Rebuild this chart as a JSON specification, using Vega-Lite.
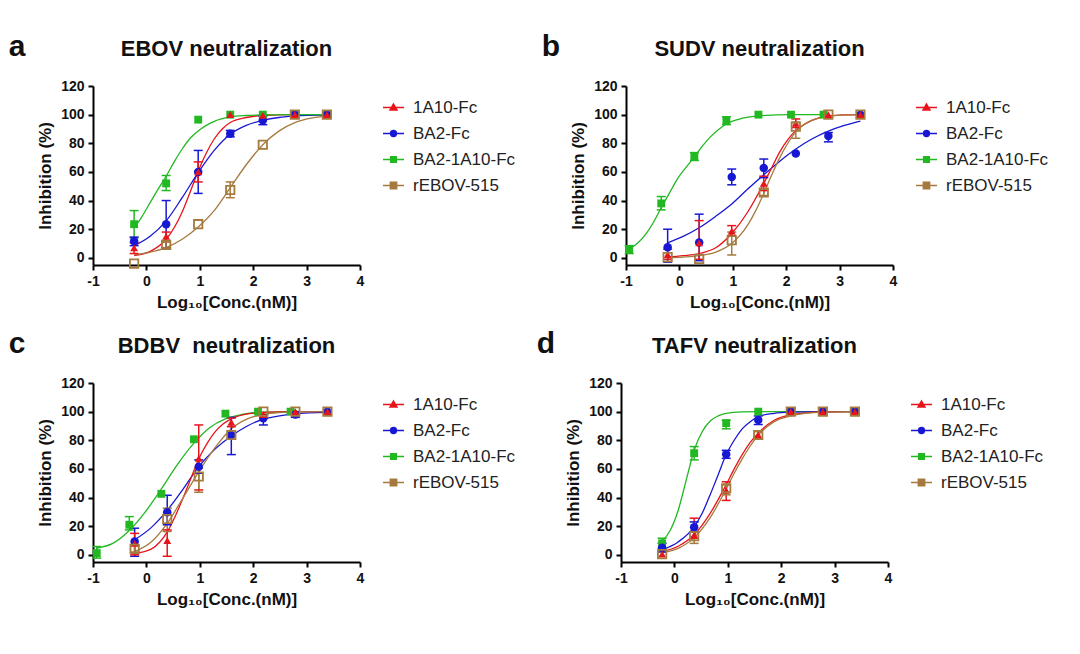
{
  "$schema": "https://vega.github.io/schema/vega-lite/v6.json",
  "background": "white",
  "padding": {"left": 8, "top": 32, "right": 5, "bottom": 5},
  "datasets": {
    "pts": [
      {"p":"EBOV","s":"BA2-1A10-Fc","x":-0.23,"y":23.5,"lo":14,"hi":33},
      {"p":"EBOV","s":"BA2-1A10-Fc","x":0.37,"y":52,"lo":47,"hi":57.5},
      {"p":"EBOV","s":"BA2-1A10-Fc","x":0.97,"y":96.5},
      {"p":"EBOV","s":"BA2-1A10-Fc","x":1.57,"y":100},
      {"p":"EBOV","s":"BA2-1A10-Fc","x":2.18,"y":100},
      {"p":"EBOV","s":"BA2-1A10-Fc","x":2.78,"y":100},
      {"p":"EBOV","s":"BA2-1A10-Fc","x":3.38,"y":100},
      {"p":"EBOV","s":"BA2-Fc","x":-0.23,"y":11.6,"lo":8.5,"hi":14.5},
      {"p":"EBOV","s":"BA2-Fc","x":0.37,"y":23.5,"lo":7,"hi":40},
      {"p":"EBOV","s":"BA2-Fc","x":0.97,"y":60,"lo":45,"hi":75},
      {"p":"EBOV","s":"BA2-Fc","x":1.57,"y":86.7,"lo":84.5,"hi":89},
      {"p":"EBOV","s":"BA2-Fc","x":2.18,"y":96,"lo":93,"hi":99},
      {"p":"EBOV","s":"BA2-Fc","x":2.78,"y":100},
      {"p":"EBOV","s":"BA2-Fc","x":3.38,"y":100},
      {"p":"EBOV","s":"1A10-Fc","x":-0.23,"y":7,"lo":3,"hi":10.5},
      {"p":"EBOV","s":"1A10-Fc","x":0.37,"y":15,"lo":12,"hi":18},
      {"p":"EBOV","s":"1A10-Fc","x":0.97,"y":60,"lo":53,"hi":67},
      {"p":"EBOV","s":"1A10-Fc","x":1.57,"y":100},
      {"p":"EBOV","s":"1A10-Fc","x":2.18,"y":99.5},
      {"p":"EBOV","s":"1A10-Fc","x":2.78,"y":100},
      {"p":"EBOV","s":"1A10-Fc","x":3.38,"y":100},
      {"p":"EBOV","s":"rEBOV-515","x":-0.23,"y":-4},
      {"p":"EBOV","s":"rEBOV-515","x":0.37,"y":9,"lo":7,"hi":11},
      {"p":"EBOV","s":"rEBOV-515","x":0.97,"y":23.5},
      {"p":"EBOV","s":"rEBOV-515","x":1.57,"y":47.4,"lo":42,"hi":53},
      {"p":"EBOV","s":"rEBOV-515","x":2.18,"y":79},
      {"p":"EBOV","s":"rEBOV-515","x":2.78,"y":100},
      {"p":"EBOV","s":"rEBOV-515","x":3.38,"y":100},

      {"p":"SUDV","s":"BA2-1A10-Fc","x":-0.94,"y":5.8,"lo":3,"hi":8.5},
      {"p":"SUDV","s":"BA2-1A10-Fc","x":-0.34,"y":38,"lo":33.5,"hi":42.8},
      {"p":"SUDV","s":"BA2-1A10-Fc","x":0.28,"y":70.7,"lo":68,"hi":73.5},
      {"p":"SUDV","s":"BA2-1A10-Fc","x":0.88,"y":95.8,"lo":93,"hi":98.5},
      {"p":"SUDV","s":"BA2-1A10-Fc","x":1.48,"y":100},
      {"p":"SUDV","s":"BA2-1A10-Fc","x":2.09,"y":100},
      {"p":"SUDV","s":"BA2-1A10-Fc","x":2.7,"y":100},
      {"p":"SUDV","s":"BA2-Fc","x":-0.22,"y":7.4,"lo":-3,"hi":20},
      {"p":"SUDV","s":"BA2-Fc","x":0.37,"y":10.7,"lo":-2,"hi":30.5},
      {"p":"SUDV","s":"BA2-Fc","x":0.98,"y":56.5,"lo":51,"hi":62},
      {"p":"SUDV","s":"BA2-Fc","x":1.58,"y":62.8,"lo":56,"hi":69},
      {"p":"SUDV","s":"BA2-Fc","x":2.18,"y":72.8},
      {"p":"SUDV","s":"BA2-Fc","x":2.79,"y":85,"lo":81,"hi":87.5},
      {"p":"SUDV","s":"BA2-Fc","x":3.39,"y":100},
      {"p":"SUDV","s":"1A10-Fc","x":-0.22,"y":2.3,"lo":-1,"hi":6},
      {"p":"SUDV","s":"1A10-Fc","x":0.37,"y":10.5,"lo":-1,"hi":26},
      {"p":"SUDV","s":"1A10-Fc","x":0.98,"y":18.6,"lo":15.6,"hi":22.5},
      {"p":"SUDV","s":"1A10-Fc","x":1.58,"y":52,"lo":47,"hi":57},
      {"p":"SUDV","s":"1A10-Fc","x":2.18,"y":94,"lo":91,"hi":97},
      {"p":"SUDV","s":"1A10-Fc","x":2.79,"y":100},
      {"p":"SUDV","s":"1A10-Fc","x":3.39,"y":100},
      {"p":"SUDV","s":"rEBOV-515","x":-0.22,"y":0.5},
      {"p":"SUDV","s":"rEBOV-515","x":0.37,"y":-0.7},
      {"p":"SUDV","s":"rEBOV-515","x":0.98,"y":12.3,"lo":2,"hi":18},
      {"p":"SUDV","s":"rEBOV-515","x":1.58,"y":45.6,"lo":43.5,"hi":48},
      {"p":"SUDV","s":"rEBOV-515","x":2.18,"y":91.6,"lo":83.5,"hi":94.7},
      {"p":"SUDV","s":"rEBOV-515","x":2.79,"y":100},
      {"p":"SUDV","s":"rEBOV-515","x":3.39,"y":100},

      {"p":"BDBV","s":"BA2-1A10-Fc","x":-0.93,"y":1.2,"lo":-2.3,"hi":5.8},
      {"p":"BDBV","s":"BA2-1A10-Fc","x":-0.32,"y":21,"lo":17.4,"hi":26.7},
      {"p":"BDBV","s":"BA2-1A10-Fc","x":0.28,"y":42.6},
      {"p":"BDBV","s":"BA2-1A10-Fc","x":0.89,"y":80.7},
      {"p":"BDBV","s":"BA2-1A10-Fc","x":1.48,"y":98.6},
      {"p":"BDBV","s":"BA2-1A10-Fc","x":2.09,"y":100},
      {"p":"BDBV","s":"BA2-1A10-Fc","x":2.7,"y":100},
      {"p":"BDBV","s":"BA2-Fc","x":-0.22,"y":9.3,"lo":-1,"hi":18.6},
      {"p":"BDBV","s":"BA2-Fc","x":0.39,"y":29.8,"lo":21,"hi":41.6},
      {"p":"BDBV","s":"BA2-Fc","x":0.98,"y":61.6,"lo":57,"hi":66.3},
      {"p":"BDBV","s":"BA2-Fc","x":1.59,"y":83.7,"lo":70,"hi":96},
      {"p":"BDBV","s":"BA2-Fc","x":2.19,"y":95.3,"lo":90.7,"hi":97.7},
      {"p":"BDBV","s":"BA2-Fc","x":2.79,"y":98,"lo":96,"hi":100},
      {"p":"BDBV","s":"BA2-Fc","x":3.39,"y":100},
      {"p":"BDBV","s":"1A10-Fc","x":-0.22,"y":8,"lo":0,"hi":15},
      {"p":"BDBV","s":"1A10-Fc","x":0.39,"y":10,"lo":-1,"hi":17.4},
      {"p":"BDBV","s":"1A10-Fc","x":0.98,"y":67.4,"lo":45.3,"hi":90.7},
      {"p":"BDBV","s":"1A10-Fc","x":1.59,"y":92.6,"lo":89.5,"hi":95.5},
      {"p":"BDBV","s":"1A10-Fc","x":2.19,"y":98},
      {"p":"BDBV","s":"1A10-Fc","x":2.79,"y":100},
      {"p":"BDBV","s":"1A10-Fc","x":3.39,"y":100},
      {"p":"BDBV","s":"rEBOV-515","x":-0.22,"y":4.2,"lo":2,"hi":6.5},
      {"p":"BDBV","s":"rEBOV-515","x":0.39,"y":25,"lo":16.3,"hi":32.6},
      {"p":"BDBV","s":"rEBOV-515","x":0.98,"y":54.7,"lo":43.7,"hi":60.5},
      {"p":"BDBV","s":"rEBOV-515","x":1.59,"y":83.7},
      {"p":"BDBV","s":"rEBOV-515","x":2.19,"y":100},
      {"p":"BDBV","s":"rEBOV-515","x":2.79,"y":100},
      {"p":"BDBV","s":"rEBOV-515","x":3.39,"y":100},

      {"p":"TAFV","s":"BA2-1A10-Fc","x":-0.23,"y":8,"lo":4.6,"hi":11.6},
      {"p":"TAFV","s":"BA2-1A10-Fc","x":0.37,"y":71,"lo":66.3,"hi":75.6},
      {"p":"TAFV","s":"BA2-1A10-Fc","x":0.97,"y":92,"lo":88,"hi":94},
      {"p":"TAFV","s":"BA2-1A10-Fc","x":1.57,"y":100},
      {"p":"TAFV","s":"BA2-1A10-Fc","x":2.18,"y":100},
      {"p":"TAFV","s":"BA2-1A10-Fc","x":2.78,"y":100},
      {"p":"TAFV","s":"BA2-1A10-Fc","x":3.38,"y":100},
      {"p":"TAFV","s":"BA2-Fc","x":-0.23,"y":5,"lo":2,"hi":8},
      {"p":"TAFV","s":"BA2-Fc","x":0.37,"y":19.3,"lo":16,"hi":23},
      {"p":"TAFV","s":"BA2-Fc","x":0.97,"y":70.2,"lo":67.4,"hi":73},
      {"p":"TAFV","s":"BA2-Fc","x":1.57,"y":94.2,"lo":91,"hi":97},
      {"p":"TAFV","s":"BA2-Fc","x":2.18,"y":100},
      {"p":"TAFV","s":"BA2-Fc","x":2.78,"y":100},
      {"p":"TAFV","s":"BA2-Fc","x":3.38,"y":100},
      {"p":"TAFV","s":"1A10-Fc","x":-0.23,"y":0.5},
      {"p":"TAFV","s":"1A10-Fc","x":0.37,"y":14,"lo":11.6,"hi":25.6},
      {"p":"TAFV","s":"1A10-Fc","x":0.97,"y":45,"lo":38,"hi":51},
      {"p":"TAFV","s":"1A10-Fc","x":1.57,"y":83.7},
      {"p":"TAFV","s":"1A10-Fc","x":2.18,"y":100},
      {"p":"TAFV","s":"1A10-Fc","x":2.78,"y":100},
      {"p":"TAFV","s":"1A10-Fc","x":3.38,"y":100},
      {"p":"TAFV","s":"rEBOV-515","x":-0.23,"y":0.5},
      {"p":"TAFV","s":"rEBOV-515","x":0.37,"y":13,"lo":8,"hi":16.3},
      {"p":"TAFV","s":"rEBOV-515","x":0.97,"y":46.5,"lo":41.9,"hi":48.8},
      {"p":"TAFV","s":"rEBOV-515","x":1.57,"y":83.7,"lo":81,"hi":86},
      {"p":"TAFV","s":"rEBOV-515","x":2.18,"y":100},
      {"p":"TAFV","s":"rEBOV-515","x":2.78,"y":100},
      {"p":"TAFV","s":"rEBOV-515","x":3.38,"y":100}
    ],
    "fit": [
      {"p":"EBOV","s":"1A10-Fc","x":-0.23,"y":1.5},{"p":"EBOV","s":"1A10-Fc","x":0.07,"y":4.5},{"p":"EBOV","s":"1A10-Fc","x":0.37,"y":13},{"p":"EBOV","s":"1A10-Fc","x":0.52,"y":21},{"p":"EBOV","s":"1A10-Fc","x":0.67,"y":32},{"p":"EBOV","s":"1A10-Fc","x":0.82,"y":46},{"p":"EBOV","s":"1A10-Fc","x":0.97,"y":60.5},{"p":"EBOV","s":"1A10-Fc","x":1.12,"y":73},{"p":"EBOV","s":"1A10-Fc","x":1.27,"y":83},{"p":"EBOV","s":"1A10-Fc","x":1.42,"y":90},{"p":"EBOV","s":"1A10-Fc","x":1.57,"y":94.5},{"p":"EBOV","s":"1A10-Fc","x":1.87,"y":98},{"p":"EBOV","s":"1A10-Fc","x":2.18,"y":99.4},{"p":"EBOV","s":"1A10-Fc","x":2.78,"y":100},{"p":"EBOV","s":"1A10-Fc","x":3.38,"y":100},
      {"p":"EBOV","s":"BA2-Fc","x":-0.23,"y":8.4},{"p":"EBOV","s":"BA2-Fc","x":0.07,"y":15},{"p":"EBOV","s":"BA2-Fc","x":0.37,"y":25.8},{"p":"EBOV","s":"BA2-Fc","x":0.67,"y":42},{"p":"EBOV","s":"BA2-Fc","x":0.97,"y":59.5},{"p":"EBOV","s":"BA2-Fc","x":1.27,"y":75},{"p":"EBOV","s":"BA2-Fc","x":1.57,"y":86.3},{"p":"EBOV","s":"BA2-Fc","x":1.87,"y":92.5},{"p":"EBOV","s":"BA2-Fc","x":2.18,"y":96},{"p":"EBOV","s":"BA2-Fc","x":2.48,"y":98},{"p":"EBOV","s":"BA2-Fc","x":2.78,"y":99},{"p":"EBOV","s":"BA2-Fc","x":3.38,"y":99.8},
      {"p":"EBOV","s":"BA2-1A10-Fc","x":-0.23,"y":21},{"p":"EBOV","s":"BA2-1A10-Fc","x":-0.08,"y":29},{"p":"EBOV","s":"BA2-1A10-Fc","x":0.07,"y":38.6},{"p":"EBOV","s":"BA2-1A10-Fc","x":0.22,"y":48},{"p":"EBOV","s":"BA2-1A10-Fc","x":0.37,"y":57},{"p":"EBOV","s":"BA2-1A10-Fc","x":0.52,"y":67},{"p":"EBOV","s":"BA2-1A10-Fc","x":0.67,"y":76},{"p":"EBOV","s":"BA2-1A10-Fc","x":0.82,"y":83.5},{"p":"EBOV","s":"BA2-1A10-Fc","x":0.97,"y":88.6},{"p":"EBOV","s":"BA2-1A10-Fc","x":1.12,"y":92.5},{"p":"EBOV","s":"BA2-1A10-Fc","x":1.27,"y":95.3},{"p":"EBOV","s":"BA2-1A10-Fc","x":1.57,"y":98.4},{"p":"EBOV","s":"BA2-1A10-Fc","x":1.87,"y":99.4},{"p":"EBOV","s":"BA2-1A10-Fc","x":2.18,"y":99.8},{"p":"EBOV","s":"BA2-1A10-Fc","x":2.78,"y":100},{"p":"EBOV","s":"BA2-1A10-Fc","x":3.38,"y":100},
      {"p":"EBOV","s":"rEBOV-515","x":-0.23,"y":2},{"p":"EBOV","s":"rEBOV-515","x":0.07,"y":4},{"p":"EBOV","s":"rEBOV-515","x":0.37,"y":7.2},{"p":"EBOV","s":"rEBOV-515","x":0.67,"y":13},{"p":"EBOV","s":"rEBOV-515","x":0.97,"y":21.5},{"p":"EBOV","s":"rEBOV-515","x":1.27,"y":33},{"p":"EBOV","s":"rEBOV-515","x":1.57,"y":49},{"p":"EBOV","s":"rEBOV-515","x":1.87,"y":65},{"p":"EBOV","s":"rEBOV-515","x":2.18,"y":79},{"p":"EBOV","s":"rEBOV-515","x":2.48,"y":88.5},{"p":"EBOV","s":"rEBOV-515","x":2.78,"y":94.4},{"p":"EBOV","s":"rEBOV-515","x":3.08,"y":97.5},{"p":"EBOV","s":"rEBOV-515","x":3.38,"y":99},

      {"p":"SUDV","s":"BA2-1A10-Fc","x":-0.94,"y":6.3},{"p":"SUDV","s":"BA2-1A10-Fc","x":-0.79,"y":10},{"p":"SUDV","s":"BA2-1A10-Fc","x":-0.64,"y":16},{"p":"SUDV","s":"BA2-1A10-Fc","x":-0.49,"y":24.5},{"p":"SUDV","s":"BA2-1A10-Fc","x":-0.34,"y":35},{"p":"SUDV","s":"BA2-1A10-Fc","x":-0.19,"y":45},{"p":"SUDV","s":"BA2-1A10-Fc","x":-0.04,"y":55},{"p":"SUDV","s":"BA2-1A10-Fc","x":0.12,"y":63},{"p":"SUDV","s":"BA2-1A10-Fc","x":0.28,"y":70.5},{"p":"SUDV","s":"BA2-1A10-Fc","x":0.43,"y":78},{"p":"SUDV","s":"BA2-1A10-Fc","x":0.58,"y":84.5},{"p":"SUDV","s":"BA2-1A10-Fc","x":0.73,"y":89.5},{"p":"SUDV","s":"BA2-1A10-Fc","x":0.88,"y":93.5},{"p":"SUDV","s":"BA2-1A10-Fc","x":1.18,"y":97.5},{"p":"SUDV","s":"BA2-1A10-Fc","x":1.48,"y":99.2},{"p":"SUDV","s":"BA2-1A10-Fc","x":2.09,"y":100},{"p":"SUDV","s":"BA2-1A10-Fc","x":2.7,"y":100},
      {"p":"SUDV","s":"BA2-Fc","x":-0.22,"y":10.5},{"p":"SUDV","s":"BA2-Fc","x":0.07,"y":15},{"p":"SUDV","s":"BA2-Fc","x":0.37,"y":21},{"p":"SUDV","s":"BA2-Fc","x":0.68,"y":29},{"p":"SUDV","s":"BA2-Fc","x":0.98,"y":37.6},{"p":"SUDV","s":"BA2-Fc","x":1.28,"y":48},{"p":"SUDV","s":"BA2-Fc","x":1.58,"y":58},{"p":"SUDV","s":"BA2-Fc","x":1.88,"y":67.5},{"p":"SUDV","s":"BA2-Fc","x":2.18,"y":76},{"p":"SUDV","s":"BA2-Fc","x":2.48,"y":83},{"p":"SUDV","s":"BA2-Fc","x":2.79,"y":88.5},{"p":"SUDV","s":"BA2-Fc","x":3.09,"y":92.5},{"p":"SUDV","s":"BA2-Fc","x":3.39,"y":95.5},
      {"p":"SUDV","s":"1A10-Fc","x":-0.22,"y":0.5},{"p":"SUDV","s":"1A10-Fc","x":0.07,"y":1.5},{"p":"SUDV","s":"1A10-Fc","x":0.37,"y":3},{"p":"SUDV","s":"1A10-Fc","x":0.68,"y":7},{"p":"SUDV","s":"1A10-Fc","x":0.98,"y":17},{"p":"SUDV","s":"1A10-Fc","x":1.28,"y":32},{"p":"SUDV","s":"1A10-Fc","x":1.58,"y":52},{"p":"SUDV","s":"1A10-Fc","x":1.73,"y":63},{"p":"SUDV","s":"1A10-Fc","x":1.88,"y":74},{"p":"SUDV","s":"1A10-Fc","x":2.03,"y":82.5},{"p":"SUDV","s":"1A10-Fc","x":2.18,"y":89},{"p":"SUDV","s":"1A10-Fc","x":2.33,"y":93},{"p":"SUDV","s":"1A10-Fc","x":2.48,"y":96},{"p":"SUDV","s":"1A10-Fc","x":2.79,"y":99},{"p":"SUDV","s":"1A10-Fc","x":3.09,"y":99.8},{"p":"SUDV","s":"1A10-Fc","x":3.39,"y":100},
      {"p":"SUDV","s":"rEBOV-515","x":-0.22,"y":0},{"p":"SUDV","s":"rEBOV-515","x":0.07,"y":0.5},{"p":"SUDV","s":"rEBOV-515","x":0.37,"y":1.5},{"p":"SUDV","s":"rEBOV-515","x":0.68,"y":4},{"p":"SUDV","s":"rEBOV-515","x":0.98,"y":10},{"p":"SUDV","s":"rEBOV-515","x":1.28,"y":23},{"p":"SUDV","s":"rEBOV-515","x":1.43,"y":33},{"p":"SUDV","s":"rEBOV-515","x":1.58,"y":45},{"p":"SUDV","s":"rEBOV-515","x":1.73,"y":58},{"p":"SUDV","s":"rEBOV-515","x":1.88,"y":70},{"p":"SUDV","s":"rEBOV-515","x":2.03,"y":80},{"p":"SUDV","s":"rEBOV-515","x":2.18,"y":88},{"p":"SUDV","s":"rEBOV-515","x":2.33,"y":93},{"p":"SUDV","s":"rEBOV-515","x":2.48,"y":96},{"p":"SUDV","s":"rEBOV-515","x":2.79,"y":99},{"p":"SUDV","s":"rEBOV-515","x":3.39,"y":100},

      {"p":"BDBV","s":"BA2-1A10-Fc","x":-0.93,"y":4.6},{"p":"BDBV","s":"BA2-1A10-Fc","x":-0.63,"y":8},{"p":"BDBV","s":"BA2-1A10-Fc","x":-0.32,"y":17},{"p":"BDBV","s":"BA2-1A10-Fc","x":-0.02,"y":30},{"p":"BDBV","s":"BA2-1A10-Fc","x":0.28,"y":46},{"p":"BDBV","s":"BA2-1A10-Fc","x":0.58,"y":63},{"p":"BDBV","s":"BA2-1A10-Fc","x":0.89,"y":78},{"p":"BDBV","s":"BA2-1A10-Fc","x":1.19,"y":89},{"p":"BDBV","s":"BA2-1A10-Fc","x":1.48,"y":95},{"p":"BDBV","s":"BA2-1A10-Fc","x":1.79,"y":98},{"p":"BDBV","s":"BA2-1A10-Fc","x":2.09,"y":99.5},{"p":"BDBV","s":"BA2-1A10-Fc","x":2.7,"y":100},
      {"p":"BDBV","s":"BA2-Fc","x":-0.22,"y":10.5},{"p":"BDBV","s":"BA2-Fc","x":0.09,"y":19},{"p":"BDBV","s":"BA2-Fc","x":0.39,"y":31},{"p":"BDBV","s":"BA2-Fc","x":0.69,"y":46},{"p":"BDBV","s":"BA2-Fc","x":0.98,"y":61.6},{"p":"BDBV","s":"BA2-Fc","x":1.29,"y":74},{"p":"BDBV","s":"BA2-Fc","x":1.59,"y":83},{"p":"BDBV","s":"BA2-Fc","x":1.89,"y":90},{"p":"BDBV","s":"BA2-Fc","x":2.19,"y":94.7},{"p":"BDBV","s":"BA2-Fc","x":2.49,"y":97},{"p":"BDBV","s":"BA2-Fc","x":2.79,"y":98.5},{"p":"BDBV","s":"BA2-Fc","x":3.39,"y":99.5},
      {"p":"BDBV","s":"1A10-Fc","x":-0.22,"y":1},{"p":"BDBV","s":"1A10-Fc","x":0.09,"y":4},{"p":"BDBV","s":"1A10-Fc","x":0.39,"y":16},{"p":"BDBV","s":"1A10-Fc","x":0.54,"y":27},{"p":"BDBV","s":"1A10-Fc","x":0.69,"y":40},{"p":"BDBV","s":"1A10-Fc","x":0.84,"y":54},{"p":"BDBV","s":"1A10-Fc","x":0.98,"y":67},{"p":"BDBV","s":"1A10-Fc","x":1.14,"y":78},{"p":"BDBV","s":"1A10-Fc","x":1.29,"y":86},{"p":"BDBV","s":"1A10-Fc","x":1.44,"y":91.5},{"p":"BDBV","s":"1A10-Fc","x":1.59,"y":95},{"p":"BDBV","s":"1A10-Fc","x":1.89,"y":98.5},{"p":"BDBV","s":"1A10-Fc","x":2.19,"y":99.5},{"p":"BDBV","s":"1A10-Fc","x":2.79,"y":100},{"p":"BDBV","s":"1A10-Fc","x":3.39,"y":100},
      {"p":"BDBV","s":"rEBOV-515","x":-0.22,"y":2.3},{"p":"BDBV","s":"rEBOV-515","x":0.09,"y":9},{"p":"BDBV","s":"rEBOV-515","x":0.39,"y":22},{"p":"BDBV","s":"rEBOV-515","x":0.69,"y":40},{"p":"BDBV","s":"rEBOV-515","x":0.98,"y":58},{"p":"BDBV","s":"rEBOV-515","x":1.29,"y":75},{"p":"BDBV","s":"rEBOV-515","x":1.59,"y":88},{"p":"BDBV","s":"rEBOV-515","x":1.89,"y":95},{"p":"BDBV","s":"rEBOV-515","x":2.19,"y":98},{"p":"BDBV","s":"rEBOV-515","x":2.49,"y":99.3},{"p":"BDBV","s":"rEBOV-515","x":2.79,"y":99.8},{"p":"BDBV","s":"rEBOV-515","x":3.39,"y":100},

      {"p":"TAFV","s":"BA2-1A10-Fc","x":-0.23,"y":9.3},{"p":"TAFV","s":"BA2-1A10-Fc","x":-0.08,"y":17},{"p":"TAFV","s":"BA2-1A10-Fc","x":0.07,"y":31},{"p":"TAFV","s":"BA2-1A10-Fc","x":0.22,"y":52},{"p":"TAFV","s":"BA2-1A10-Fc","x":0.37,"y":73},{"p":"TAFV","s":"BA2-1A10-Fc","x":0.52,"y":86},{"p":"TAFV","s":"BA2-1A10-Fc","x":0.67,"y":93.5},{"p":"TAFV","s":"BA2-1A10-Fc","x":0.82,"y":97},{"p":"TAFV","s":"BA2-1A10-Fc","x":0.97,"y":98.8},{"p":"TAFV","s":"BA2-1A10-Fc","x":1.27,"y":99.8},{"p":"TAFV","s":"BA2-1A10-Fc","x":1.57,"y":100},{"p":"TAFV","s":"BA2-1A10-Fc","x":2.18,"y":100},{"p":"TAFV","s":"BA2-1A10-Fc","x":2.78,"y":100},{"p":"TAFV","s":"BA2-1A10-Fc","x":3.38,"y":100},
      {"p":"TAFV","s":"BA2-Fc","x":-0.23,"y":3.5},{"p":"TAFV","s":"BA2-Fc","x":0.07,"y":9},{"p":"TAFV","s":"BA2-Fc","x":0.37,"y":19.5},{"p":"TAFV","s":"BA2-Fc","x":0.52,"y":29},{"p":"TAFV","s":"BA2-Fc","x":0.67,"y":42},{"p":"TAFV","s":"BA2-Fc","x":0.82,"y":56},{"p":"TAFV","s":"BA2-Fc","x":0.97,"y":70},{"p":"TAFV","s":"BA2-Fc","x":1.12,"y":80},{"p":"TAFV","s":"BA2-Fc","x":1.27,"y":88},{"p":"TAFV","s":"BA2-Fc","x":1.42,"y":93},{"p":"TAFV","s":"BA2-Fc","x":1.57,"y":96.5},{"p":"TAFV","s":"BA2-Fc","x":1.87,"y":98.8},{"p":"TAFV","s":"BA2-Fc","x":2.18,"y":99.6},{"p":"TAFV","s":"BA2-Fc","x":2.78,"y":100},{"p":"TAFV","s":"BA2-Fc","x":3.38,"y":100},
      {"p":"TAFV","s":"1A10-Fc","x":-0.23,"y":2.3},{"p":"TAFV","s":"1A10-Fc","x":0.07,"y":6},{"p":"TAFV","s":"1A10-Fc","x":0.37,"y":14},{"p":"TAFV","s":"1A10-Fc","x":0.67,"y":29},{"p":"TAFV","s":"1A10-Fc","x":0.97,"y":49},{"p":"TAFV","s":"1A10-Fc","x":1.12,"y":60},{"p":"TAFV","s":"1A10-Fc","x":1.27,"y":70},{"p":"TAFV","s":"1A10-Fc","x":1.42,"y":78.5},{"p":"TAFV","s":"1A10-Fc","x":1.57,"y":85},{"p":"TAFV","s":"1A10-Fc","x":1.87,"y":94},{"p":"TAFV","s":"1A10-Fc","x":2.18,"y":97.7},{"p":"TAFV","s":"1A10-Fc","x":2.48,"y":99.2},{"p":"TAFV","s":"1A10-Fc","x":2.78,"y":99.8},{"p":"TAFV","s":"1A10-Fc","x":3.38,"y":100},
      {"p":"TAFV","s":"rEBOV-515","x":-0.23,"y":1.5},{"p":"TAFV","s":"rEBOV-515","x":0.07,"y":4.5},{"p":"TAFV","s":"rEBOV-515","x":0.37,"y":12},{"p":"TAFV","s":"rEBOV-515","x":0.67,"y":26},{"p":"TAFV","s":"rEBOV-515","x":0.97,"y":46},{"p":"TAFV","s":"rEBOV-515","x":1.12,"y":57},{"p":"TAFV","s":"rEBOV-515","x":1.27,"y":67},{"p":"TAFV","s":"rEBOV-515","x":1.42,"y":76},{"p":"TAFV","s":"rEBOV-515","x":1.57,"y":83.5},{"p":"TAFV","s":"rEBOV-515","x":1.87,"y":93},{"p":"TAFV","s":"rEBOV-515","x":2.18,"y":97},{"p":"TAFV","s":"rEBOV-515","x":2.48,"y":99},{"p":"TAFV","s":"rEBOV-515","x":2.78,"y":99.7},{"p":"TAFV","s":"rEBOV-515","x":3.38,"y":100}
    ]
  },
  "resolve": {"scale": {"stroke": "independent", "color": "independent"}},
  "spacing": 19,
  "vconcat": [
    {
      "spacing": 15,
      "resolve": {"scale": {"stroke": "independent", "color": "independent"}},
      "hconcat": [
        {
          "title": {"text": "a", "fontSize": 30, "anchor": "start", "frame": "bounds", "dx": -28, "dy": 24, "offset": 0},
          "resolve": {"scale": {"stroke": "independent", "color": "independent"}},
          "vconcat": [{
            "width": 267, "height": 179,
            "title": "EBOV neutralization",
            "encoding": {
              "x": {"field": "x", "type": "quantitative", "scale": {"domain": [-1, 4], "nice": false, "zero": false}, "axis": {"values": [-1, 0, 1, 2, 3, 4], "labelExpr": "replace(datum.label, '−', '-')", "title": "Log₁₀[Conc.(nM)]"}},
              "y": {"field": "y", "type": "quantitative", "scale": {"domain": [-5, 120], "nice": false, "zero": false}, "axis": {"values": [0, 20, 40, 60, 80, 100, 120], "title": "Inhibition (%)"}}
            },
            "layer": [
              {"data": {"values": [{}]}, "mark": {"type": "rule", "strokeDash": [2, 4], "strokeWidth": 1.6, "color": "#000"}, "encoding": {"x": null, "y": {"datum": 0, "type": "quantitative"}}},
              {"data": {"name": "fit"}, "transform": [{"filter": "datum.p === 'EBOV'"}], "mark": {"type": "line", "interpolate": "monotone", "strokeWidth": 1.3},
               "encoding": {
                 "stroke": {"field": "s", "type": "nominal", "scale": {"domain": ["1A10-Fc", "BA2-Fc", "BA2-1A10-Fc", "rEBOV-515"], "range": ["#e8141b", "#1717d4", "#22b822", "#a57a3e"]},
                   "legend": {"title": null, "orient": "right", "offset": 12, "padding": 10, "symbolSize": 441, "symbolStrokeWidth": 1.5, "labelFontSize": 17, "labelOffset": 8, "rowPadding": 6, "labelColor": "#222", "labelFont": "Liberation Sans",
                     "encode": {"symbols": {"update": {
                       "shape": {"signal": "datum.value === '1A10-Fc' ? 'M-1,0H1M0,-0.33L0.33,0.24L-0.33,0.24Z' : datum.value === 'BA2-Fc' ? 'M-1,0H1M-0.28,0A0.28,0.28 0 1,0 0.28,0A0.28,0.28 0 1,0 -0.28,0Z' : datum.value === 'BA2-1A10-Fc' ? 'M-1,0H1M-0.27,-0.27H0.27V0.27H-0.27Z' : 'M-1,0H1M-0.3,-0.3H0.3V0.3H-0.3Z'"},
                       "fill": {"signal": "datum.value === '1A10-Fc' ? '#e8141b' : datum.value === 'BA2-Fc' ? '#1717d4' : datum.value === 'BA2-1A10-Fc' ? '#22b822' : 'transparent'"},
                       "stroke": {"signal": "datum.value === '1A10-Fc' ? '#e8141b' : datum.value === 'BA2-Fc' ? '#1717d4' : datum.value === 'BA2-1A10-Fc' ? '#22b822' : '#a57a3e'"},
                       "strokeWidth": {"value": 1.5}, "opacity": {"value": 1}, "fillOpacity": {"value": 1}
                     }}}}}
               }},
              {"data": {"name": "pts"}, "transform": [{"filter": "datum.p === 'EBOV' && isValid(datum.lo)"}], "mark": {"type": "rule", "strokeWidth": 1.5},
               "encoding": {"y": {"field": "lo", "type": "quantitative"}, "y2": {"field": "hi"}, "stroke": {"field": "s", "type": "nominal"}}},
              {"data": {"name": "pts"}, "transform": [{"filter": "datum.p === 'EBOV' && isValid(datum.lo)"}], "mark": {"type": "tick", "orient": "horizontal", "size": 9, "thickness": 1.5, "opacity": 1},
               "encoding": {"y": {"field": "lo", "type": "quantitative"}, "color": {"field": "s", "type": "nominal", "scale": {"domain": ["1A10-Fc", "BA2-Fc", "BA2-1A10-Fc", "rEBOV-515"], "range": ["#e8141b", "#1717d4", "#22b822", "#a57a3e"]}, "legend": null}}},
              {"data": {"name": "pts"}, "transform": [{"filter": "datum.p === 'EBOV' && isValid(datum.lo)"}], "mark": {"type": "tick", "orient": "horizontal", "size": 9, "thickness": 1.5, "opacity": 1},
               "encoding": {"y": {"field": "hi", "type": "quantitative"}, "color": {"field": "s", "type": "nominal", "legend": null}}},
              {"data": {"name": "pts"}, "transform": [{"filter": "datum.p === 'EBOV' && datum.s === 'BA2-1A10-Fc'"}], "mark": {"type": "point", "shape": "square", "filled": true, "color": "#22b822", "size": 62, "opacity": 1}},
              {"data": {"name": "pts"}, "transform": [{"filter": "datum.p === 'EBOV' && datum.s === 'BA2-Fc'"}], "mark": {"type": "point", "shape": "circle", "filled": true, "color": "#1717d4", "size": 72, "opacity": 1}},
              {"data": {"name": "pts"}, "transform": [{"filter": "datum.p === 'EBOV' && datum.s === '1A10-Fc'"}], "mark": {"type": "point", "shape": "triangle-up", "filled": true, "color": "#e8141b", "size": 62, "opacity": 1}},
              {"data": {"name": "pts"}, "transform": [{"filter": "datum.p === 'EBOV' && datum.s === 'rEBOV-515'"}], "mark": {"type": "point", "shape": "square", "filled": false, "color": "#a57a3e", "size": 70, "strokeWidth": 1.8, "opacity": 1}}
            ]
          }]
        },
        {
          "title": {"text": "b", "fontSize": 30, "anchor": "start", "frame": "bounds", "dx": -28, "dy": 24, "offset": 0},
          "resolve": {"scale": {"stroke": "independent", "color": "independent"}},
          "vconcat": [{
            "width": 267, "height": 179,
            "title": "SUDV neutralization",
            "encoding": {
              "x": {"field": "x", "type": "quantitative", "scale": {"domain": [-1, 4], "nice": false, "zero": false}, "axis": {"values": [-1, 0, 1, 2, 3, 4], "labelExpr": "replace(datum.label, '−', '-')", "title": "Log₁₀[Conc.(nM)]"}},
              "y": {"field": "y", "type": "quantitative", "scale": {"domain": [-5, 120], "nice": false, "zero": false}, "axis": {"values": [0, 20, 40, 60, 80, 100, 120], "title": "Inhibition (%)"}}
            },
            "layer": [
              {"data": {"values": [{}]}, "mark": {"type": "rule", "strokeDash": [2, 4], "strokeWidth": 1.6, "color": "#000"}, "encoding": {"x": null, "y": {"datum": 0, "type": "quantitative"}}},
              {"data": {"name": "fit"}, "transform": [{"filter": "datum.p === 'SUDV'"}], "mark": {"type": "line", "interpolate": "monotone", "strokeWidth": 1.3},
               "encoding": {
                 "stroke": {"field": "s", "type": "nominal", "scale": {"domain": ["1A10-Fc", "BA2-Fc", "BA2-1A10-Fc", "rEBOV-515"], "range": ["#e8141b", "#1717d4", "#22b822", "#a57a3e"]},
                   "legend": {"title": null, "orient": "right", "offset": 12, "padding": 10, "symbolSize": 441, "symbolStrokeWidth": 1.5, "labelFontSize": 17, "labelOffset": 8, "rowPadding": 6, "labelColor": "#222", "labelFont": "Liberation Sans",
                     "encode": {"symbols": {"update": {
                       "shape": {"signal": "datum.value === '1A10-Fc' ? 'M-1,0H1M0,-0.33L0.33,0.24L-0.33,0.24Z' : datum.value === 'BA2-Fc' ? 'M-1,0H1M-0.28,0A0.28,0.28 0 1,0 0.28,0A0.28,0.28 0 1,0 -0.28,0Z' : datum.value === 'BA2-1A10-Fc' ? 'M-1,0H1M-0.27,-0.27H0.27V0.27H-0.27Z' : 'M-1,0H1M-0.3,-0.3H0.3V0.3H-0.3Z'"},
                       "fill": {"signal": "datum.value === '1A10-Fc' ? '#e8141b' : datum.value === 'BA2-Fc' ? '#1717d4' : datum.value === 'BA2-1A10-Fc' ? '#22b822' : 'transparent'"},
                       "stroke": {"signal": "datum.value === '1A10-Fc' ? '#e8141b' : datum.value === 'BA2-Fc' ? '#1717d4' : datum.value === 'BA2-1A10-Fc' ? '#22b822' : '#a57a3e'"},
                       "strokeWidth": {"value": 1.5}, "opacity": {"value": 1}, "fillOpacity": {"value": 1}
                     }}}}}
               }},
              {"data": {"name": "pts"}, "transform": [{"filter": "datum.p === 'SUDV' && isValid(datum.lo)"}], "mark": {"type": "rule", "strokeWidth": 1.5},
               "encoding": {"y": {"field": "lo", "type": "quantitative"}, "y2": {"field": "hi"}, "stroke": {"field": "s", "type": "nominal"}}},
              {"data": {"name": "pts"}, "transform": [{"filter": "datum.p === 'SUDV' && isValid(datum.lo)"}], "mark": {"type": "tick", "orient": "horizontal", "size": 9, "thickness": 1.5, "opacity": 1},
               "encoding": {"y": {"field": "lo", "type": "quantitative"}, "color": {"field": "s", "type": "nominal", "scale": {"domain": ["1A10-Fc", "BA2-Fc", "BA2-1A10-Fc", "rEBOV-515"], "range": ["#e8141b", "#1717d4", "#22b822", "#a57a3e"]}, "legend": null}}},
              {"data": {"name": "pts"}, "transform": [{"filter": "datum.p === 'SUDV' && isValid(datum.lo)"}], "mark": {"type": "tick", "orient": "horizontal", "size": 9, "thickness": 1.5, "opacity": 1},
               "encoding": {"y": {"field": "hi", "type": "quantitative"}, "color": {"field": "s", "type": "nominal", "legend": null}}},
              {"data": {"name": "pts"}, "transform": [{"filter": "datum.p === 'SUDV' && datum.s === 'BA2-1A10-Fc'"}], "mark": {"type": "point", "shape": "square", "filled": true, "color": "#22b822", "size": 62, "opacity": 1}},
              {"data": {"name": "pts"}, "transform": [{"filter": "datum.p === 'SUDV' && datum.s === 'BA2-Fc'"}], "mark": {"type": "point", "shape": "circle", "filled": true, "color": "#1717d4", "size": 72, "opacity": 1}},
              {"data": {"name": "pts"}, "transform": [{"filter": "datum.p === 'SUDV' && datum.s === '1A10-Fc'"}], "mark": {"type": "point", "shape": "triangle-up", "filled": true, "color": "#e8141b", "size": 62, "opacity": 1}},
              {"data": {"name": "pts"}, "transform": [{"filter": "datum.p === 'SUDV' && datum.s === 'rEBOV-515'"}], "mark": {"type": "point", "shape": "square", "filled": false, "color": "#a57a3e", "size": 70, "strokeWidth": 1.8, "opacity": 1}}
            ]
          }]
        }
      ]
    },
    {
      "spacing": 10,
      "resolve": {"scale": {"stroke": "independent", "color": "independent"}},
      "hconcat": [
        {
          "title": {"text": "c", "fontSize": 30, "anchor": "start", "frame": "bounds", "dx": -28, "dy": 24, "offset": 0},
          "resolve": {"scale": {"stroke": "independent", "color": "independent"}},
          "vconcat": [{
            "width": 267, "height": 179,
            "title": "BDBV\u00a0 neutralization",
            "encoding": {
              "x": {"field": "x", "type": "quantitative", "scale": {"domain": [-1, 4], "nice": false, "zero": false}, "axis": {"values": [-1, 0, 1, 2, 3, 4], "labelExpr": "replace(datum.label, '−', '-')", "title": "Log₁₀[Conc.(nM)]"}},
              "y": {"field": "y", "type": "quantitative", "scale": {"domain": [-5, 120], "nice": false, "zero": false}, "axis": {"values": [0, 20, 40, 60, 80, 100, 120], "title": "Inhibition (%)"}}
            },
            "layer": [
              {"data": {"values": [{}]}, "mark": {"type": "rule", "strokeDash": [2, 4], "strokeWidth": 1.6, "color": "#000"}, "encoding": {"x": null, "y": {"datum": 0, "type": "quantitative"}}},
              {"data": {"name": "fit"}, "transform": [{"filter": "datum.p === 'BDBV'"}], "mark": {"type": "line", "interpolate": "monotone", "strokeWidth": 1.3},
               "encoding": {
                 "stroke": {"field": "s", "type": "nominal", "scale": {"domain": ["1A10-Fc", "BA2-Fc", "BA2-1A10-Fc", "rEBOV-515"], "range": ["#e8141b", "#1717d4", "#22b822", "#a57a3e"]},
                   "legend": {"title": null, "orient": "right", "offset": 12, "padding": 10, "symbolSize": 441, "symbolStrokeWidth": 1.5, "labelFontSize": 17, "labelOffset": 8, "rowPadding": 6, "labelColor": "#222", "labelFont": "Liberation Sans",
                     "encode": {"symbols": {"update": {
                       "shape": {"signal": "datum.value === '1A10-Fc' ? 'M-1,0H1M0,-0.33L0.33,0.24L-0.33,0.24Z' : datum.value === 'BA2-Fc' ? 'M-1,0H1M-0.28,0A0.28,0.28 0 1,0 0.28,0A0.28,0.28 0 1,0 -0.28,0Z' : datum.value === 'BA2-1A10-Fc' ? 'M-1,0H1M-0.27,-0.27H0.27V0.27H-0.27Z' : 'M-1,0H1M-0.3,-0.3H0.3V0.3H-0.3Z'"},
                       "fill": {"signal": "datum.value === '1A10-Fc' ? '#e8141b' : datum.value === 'BA2-Fc' ? '#1717d4' : datum.value === 'BA2-1A10-Fc' ? '#22b822' : 'transparent'"},
                       "stroke": {"signal": "datum.value === '1A10-Fc' ? '#e8141b' : datum.value === 'BA2-Fc' ? '#1717d4' : datum.value === 'BA2-1A10-Fc' ? '#22b822' : '#a57a3e'"},
                       "strokeWidth": {"value": 1.5}, "opacity": {"value": 1}, "fillOpacity": {"value": 1}
                     }}}}}
               }},
              {"data": {"name": "pts"}, "transform": [{"filter": "datum.p === 'BDBV' && isValid(datum.lo)"}], "mark": {"type": "rule", "strokeWidth": 1.5},
               "encoding": {"y": {"field": "lo", "type": "quantitative"}, "y2": {"field": "hi"}, "stroke": {"field": "s", "type": "nominal"}}},
              {"data": {"name": "pts"}, "transform": [{"filter": "datum.p === 'BDBV' && isValid(datum.lo)"}], "mark": {"type": "tick", "orient": "horizontal", "size": 9, "thickness": 1.5, "opacity": 1},
               "encoding": {"y": {"field": "lo", "type": "quantitative"}, "color": {"field": "s", "type": "nominal", "scale": {"domain": ["1A10-Fc", "BA2-Fc", "BA2-1A10-Fc", "rEBOV-515"], "range": ["#e8141b", "#1717d4", "#22b822", "#a57a3e"]}, "legend": null}}},
              {"data": {"name": "pts"}, "transform": [{"filter": "datum.p === 'BDBV' && isValid(datum.lo)"}], "mark": {"type": "tick", "orient": "horizontal", "size": 9, "thickness": 1.5, "opacity": 1},
               "encoding": {"y": {"field": "hi", "type": "quantitative"}, "color": {"field": "s", "type": "nominal", "legend": null}}},
              {"data": {"name": "pts"}, "transform": [{"filter": "datum.p === 'BDBV' && datum.s === 'BA2-1A10-Fc'"}], "mark": {"type": "point", "shape": "square", "filled": true, "color": "#22b822", "size": 62, "opacity": 1}},
              {"data": {"name": "pts"}, "transform": [{"filter": "datum.p === 'BDBV' && datum.s === 'BA2-Fc'"}], "mark": {"type": "point", "shape": "circle", "filled": true, "color": "#1717d4", "size": 72, "opacity": 1}},
              {"data": {"name": "pts"}, "transform": [{"filter": "datum.p === 'BDBV' && datum.s === '1A10-Fc'"}], "mark": {"type": "point", "shape": "triangle-up", "filled": true, "color": "#e8141b", "size": 62, "opacity": 1}},
              {"data": {"name": "pts"}, "transform": [{"filter": "datum.p === 'BDBV' && datum.s === 'rEBOV-515'"}], "mark": {"type": "point", "shape": "square", "filled": false, "color": "#a57a3e", "size": 70, "strokeWidth": 1.8, "opacity": 1}}
            ]
          }]
        },
        {
          "title": {"text": "d", "fontSize": 30, "anchor": "start", "frame": "bounds", "dx": -28, "dy": 24, "offset": 0},
          "resolve": {"scale": {"stroke": "independent", "color": "independent"}},
          "vconcat": [{
            "width": 267, "height": 179,
            "title": "TAFV neutralization",
            "encoding": {
              "x": {"field": "x", "type": "quantitative", "scale": {"domain": [-1, 4], "nice": false, "zero": false}, "axis": {"values": [-1, 0, 1, 2, 3, 4], "labelExpr": "replace(datum.label, '−', '-')", "title": "Log₁₀[Conc.(nM)]"}},
              "y": {"field": "y", "type": "quantitative", "scale": {"domain": [-5, 120], "nice": false, "zero": false}, "axis": {"values": [0, 20, 40, 60, 80, 100, 120], "title": "Inhibition (%)"}}
            },
            "layer": [
              {"data": {"values": [{}]}, "mark": {"type": "rule", "strokeDash": [2, 4], "strokeWidth": 1.6, "color": "#000"}, "encoding": {"x": null, "y": {"datum": 0, "type": "quantitative"}}},
              {"data": {"name": "fit"}, "transform": [{"filter": "datum.p === 'TAFV'"}], "mark": {"type": "line", "interpolate": "monotone", "strokeWidth": 1.3},
               "encoding": {
                 "stroke": {"field": "s", "type": "nominal", "scale": {"domain": ["1A10-Fc", "BA2-Fc", "BA2-1A10-Fc", "rEBOV-515"], "range": ["#e8141b", "#1717d4", "#22b822", "#a57a3e"]},
                   "legend": {"title": null, "orient": "right", "offset": 12, "padding": 10, "symbolSize": 441, "symbolStrokeWidth": 1.5, "labelFontSize": 17, "labelOffset": 8, "rowPadding": 6, "labelColor": "#222", "labelFont": "Liberation Sans",
                     "encode": {"symbols": {"update": {
                       "shape": {"signal": "datum.value === '1A10-Fc' ? 'M-1,0H1M0,-0.33L0.33,0.24L-0.33,0.24Z' : datum.value === 'BA2-Fc' ? 'M-1,0H1M-0.28,0A0.28,0.28 0 1,0 0.28,0A0.28,0.28 0 1,0 -0.28,0Z' : datum.value === 'BA2-1A10-Fc' ? 'M-1,0H1M-0.27,-0.27H0.27V0.27H-0.27Z' : 'M-1,0H1M-0.3,-0.3H0.3V0.3H-0.3Z'"},
                       "fill": {"signal": "datum.value === '1A10-Fc' ? '#e8141b' : datum.value === 'BA2-Fc' ? '#1717d4' : datum.value === 'BA2-1A10-Fc' ? '#22b822' : 'transparent'"},
                       "stroke": {"signal": "datum.value === '1A10-Fc' ? '#e8141b' : datum.value === 'BA2-Fc' ? '#1717d4' : datum.value === 'BA2-1A10-Fc' ? '#22b822' : '#a57a3e'"},
                       "strokeWidth": {"value": 1.5}, "opacity": {"value": 1}, "fillOpacity": {"value": 1}
                     }}}}}
               }},
              {"data": {"name": "pts"}, "transform": [{"filter": "datum.p === 'TAFV' && isValid(datum.lo)"}], "mark": {"type": "rule", "strokeWidth": 1.5},
               "encoding": {"y": {"field": "lo", "type": "quantitative"}, "y2": {"field": "hi"}, "stroke": {"field": "s", "type": "nominal"}}},
              {"data": {"name": "pts"}, "transform": [{"filter": "datum.p === 'TAFV' && isValid(datum.lo)"}], "mark": {"type": "tick", "orient": "horizontal", "size": 9, "thickness": 1.5, "opacity": 1},
               "encoding": {"y": {"field": "lo", "type": "quantitative"}, "color": {"field": "s", "type": "nominal", "scale": {"domain": ["1A10-Fc", "BA2-Fc", "BA2-1A10-Fc", "rEBOV-515"], "range": ["#e8141b", "#1717d4", "#22b822", "#a57a3e"]}, "legend": null}}},
              {"data": {"name": "pts"}, "transform": [{"filter": "datum.p === 'TAFV' && isValid(datum.lo)"}], "mark": {"type": "tick", "orient": "horizontal", "size": 9, "thickness": 1.5, "opacity": 1},
               "encoding": {"y": {"field": "hi", "type": "quantitative"}, "color": {"field": "s", "type": "nominal", "legend": null}}},
              {"data": {"name": "pts"}, "transform": [{"filter": "datum.p === 'TAFV' && datum.s === 'BA2-1A10-Fc'"}], "mark": {"type": "point", "shape": "square", "filled": true, "color": "#22b822", "size": 62, "opacity": 1}},
              {"data": {"name": "pts"}, "transform": [{"filter": "datum.p === 'TAFV' && datum.s === 'BA2-Fc'"}], "mark": {"type": "point", "shape": "circle", "filled": true, "color": "#1717d4", "size": 72, "opacity": 1}},
              {"data": {"name": "pts"}, "transform": [{"filter": "datum.p === 'TAFV' && datum.s === '1A10-Fc'"}], "mark": {"type": "point", "shape": "triangle-up", "filled": true, "color": "#e8141b", "size": 62, "opacity": 1}},
              {"data": {"name": "pts"}, "transform": [{"filter": "datum.p === 'TAFV' && datum.s === 'rEBOV-515'"}], "mark": {"type": "point", "shape": "square", "filled": false, "color": "#a57a3e", "size": 70, "strokeWidth": 1.8, "opacity": 1}}
            ]
          }]
        }
      ]
    }
  ],
  "config": {
    "font": "Liberation Sans",
    "view": {"stroke": null},
    "axis": {"grid": false, "domainColor": "#000", "domainWidth": 2, "tickColor": "#000", "tickWidth": 2, "tickSize": 5,
      "labelFont": "Liberation Sans", "labelFontSize": 14, "labelFontWeight": "bold", "labelColor": "#111", "labelPadding": 4,
      "titleFont": "Liberation Sans", "titleFontSize": 17, "titleFontWeight": "bold", "titleColor": "#111", "titlePadding": 6,
      "labelFlush": false, "labelOverlap": false},
    "title": {"font": "Liberation Sans", "fontSize": 22, "fontWeight": "bold", "color": "#111", "anchor": "middle", "frame": "group", "offset": 18}
  }
}
